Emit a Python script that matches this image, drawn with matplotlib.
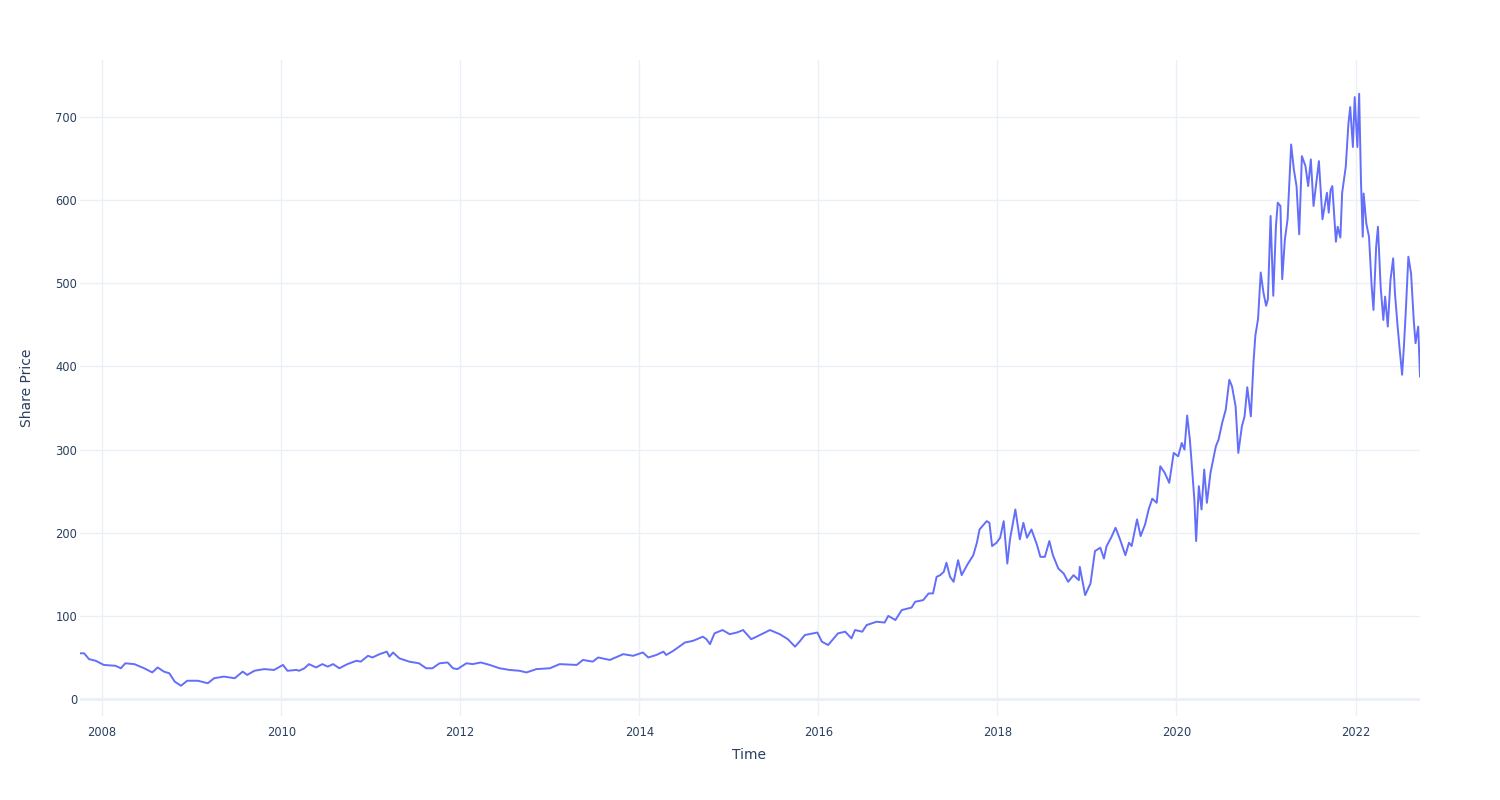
import matplotlib
matplotlib.use("Agg")
import matplotlib.pyplot as plt
from datetime import datetime, timedelta

# Decimal-year time stamps and share prices
time_decimal = [
    2007.754, 2007.80, 2007.855, 2007.93, 2008.02, 2008.15, 2008.21, 2008.26, 2008.36, 2008.47,
    2008.56, 2008.62, 2008.69, 2008.75, 2008.81, 2008.88, 2008.95, 2009.07, 2009.18, 2009.25,
    2009.36, 2009.48, 2009.57, 2009.62, 2009.70, 2009.81, 2009.92, 2010.02, 2010.07, 2010.17,
    2010.20, 2010.26, 2010.31, 2010.39, 2010.46, 2010.52, 2010.58, 2010.65, 2010.74, 2010.84,
    2010.89, 2010.97, 2011.02, 2011.10, 2011.18, 2011.21, 2011.25, 2011.32, 2011.43, 2011.54,
    2011.62, 2011.69, 2011.77, 2011.86, 2011.92, 2011.97, 2012.07, 2012.14, 2012.23, 2012.33,
    2012.44, 2012.55, 2012.66, 2012.74, 2012.85, 2013.00, 2013.11, 2013.30, 2013.37, 2013.48,
    2013.54, 2013.67, 2013.82, 2013.93, 2014.04, 2014.10, 2014.19, 2014.27, 2014.30, 2014.38,
    2014.51, 2014.60, 2014.71, 2014.75, 2014.79, 2014.84, 2014.93, 2015.01, 2015.09, 2015.16,
    2015.25, 2015.31, 2015.46, 2015.57, 2015.66, 2015.74, 2015.79, 2015.85, 2015.99, 2016.04,
    2016.11, 2016.22, 2016.30, 2016.37, 2016.41, 2016.49, 2016.54, 2016.65, 2016.74, 2016.78,
    2016.86, 2016.93, 2017.04, 2017.08, 2017.17, 2017.23, 2017.28, 2017.32, 2017.36, 2017.40,
    2017.43, 2017.47, 2017.51, 2017.56, 2017.60, 2017.66, 2017.73, 2017.77, 2017.80, 2017.88,
    2017.91, 2017.94, 2017.99, 2018.03, 2018.07, 2018.11, 2018.14, 2018.20, 2018.25, 2018.29,
    2018.33, 2018.38, 2018.44, 2018.48, 2018.53, 2018.58, 2018.62, 2018.68, 2018.74, 2018.79,
    2018.85, 2018.91, 2018.92, 2018.98, 2019.04, 2019.09, 2019.15, 2019.19, 2019.22, 2019.27,
    2019.32, 2019.37, 2019.43, 2019.47, 2019.50, 2019.56, 2019.60, 2019.65, 2019.69, 2019.73,
    2019.78, 2019.82, 2019.87, 2019.92, 2019.97, 2020.02, 2020.06, 2020.09, 2020.12, 2020.15,
    2020.17, 2020.20, 2020.22, 2020.25, 2020.28, 2020.31, 2020.34, 2020.38, 2020.44, 2020.47,
    2020.51, 2020.55, 2020.59, 2020.62, 2020.66, 2020.69, 2020.73, 2020.76, 2020.79, 2020.83,
    2020.86, 2020.88, 2020.91, 2020.94, 2020.97, 2021.00, 2021.02, 2021.05, 2021.08, 2021.11,
    2021.13, 2021.16, 2021.18, 2021.21, 2021.24, 2021.28, 2021.31, 2021.34, 2021.37, 2021.40,
    2021.44, 2021.47, 2021.50, 2021.53, 2021.59, 2021.63, 2021.68, 2021.70, 2021.72, 2021.74,
    2021.78, 2021.80, 2021.83, 2021.85, 2021.89, 2021.92, 2021.94, 2021.97, 2021.99, 2022.02,
    2022.04, 2022.06, 2022.08, 2022.09, 2022.12, 2022.15, 2022.18, 2022.20, 2022.23, 2022.25,
    2022.28, 2022.31, 2022.33, 2022.36, 2022.39, 2022.42, 2022.44, 2022.47, 2022.49, 2022.52,
    2022.54, 2022.56, 2022.59, 2022.62, 2022.65, 2022.67, 2022.70, 2022.72,
]

share_price = [
    55, 55, 48, 46, 41, 40, 37, 43, 42, 37,
    32, 38, 33, 31, 21, 16, 22, 22, 19, 25,
    27, 25, 33, 29, 34, 36, 35, 41, 34, 35,
    34, 37, 42, 38, 42, 39, 42, 37, 42, 46,
    45, 52, 50, 54, 57, 51, 56, 49, 45, 43,
    37, 37, 43, 44, 37, 36, 43, 42, 44, 41,
    37, 35, 34, 32, 36, 37, 42, 41, 47, 45,
    50, 47, 54, 52, 56, 50, 53, 57, 53, 58,
    68, 70, 75, 72, 66, 79, 83, 78, 80, 83,
    72, 75, 83, 78, 72, 63, 69, 77, 80, 69,
    65, 79, 81, 73, 83, 81, 89, 93, 92, 100,
    95, 107, 110, 117, 119, 127, 127, 147, 149, 153,
    164, 147, 141, 167, 149, 161, 173, 188, 204, 214,
    212, 184, 188, 194, 214, 163, 192, 228, 192, 212,
    194, 204, 186, 171, 171, 190, 173, 157, 151, 141,
    149, 143, 159, 125, 139, 178, 182, 169, 184, 194,
    206, 192, 173, 188, 184, 216, 196, 210, 228, 241,
    236, 280, 272, 260, 296, 292, 308, 300, 341, 312,
    284, 240, 190, 256, 228, 276, 236, 272, 304, 312,
    332, 348, 384, 376, 352, 296, 328, 340, 375, 340,
    406, 437, 457, 513, 489, 473, 481, 581, 485, 569,
    597, 593, 505, 553, 577, 667, 637, 617, 559, 653,
    641, 617, 649, 593, 647, 577, 609, 585, 612, 617,
    550, 568, 555, 609, 640, 692, 712, 664, 724, 664,
    728, 624, 556, 608, 572, 556, 496, 468, 544, 568,
    496, 456, 484, 448, 504, 530, 488, 448, 424, 390,
    424, 464, 532, 512, 456, 428, 448, 388,
]

y_ticks = [0, 100, 200, 300, 400, 500, 600, 700]
x_tick_years = [2008, 2010, 2012, 2014, 2016, 2018, 2020, 2022]


def to_datetime(dy):
    year = int(dy)
    start = datetime(year, 1, 1)
    days = (datetime(year + 1, 1, 1) - start).days
    return start + timedelta(days=(dy - year) * days)


dates = [to_datetime(v) for v in time_decimal]

W, H = 1500, 800
fig = plt.figure(figsize=(15, 8), dpi=100)
fig.patch.set_facecolor("white")
left, right, top, bottom = 80, 1420, 60, 716
ax = fig.add_axes([left / W, 1 - bottom / H, (right - left) / W, (bottom - top) / H])
ax.set_facecolor("white")

grid_color = "#EBF0F8"
text_color = "#2a3f5f"

ax.plot(dates, share_price, color="#636efa", linewidth=1.4, zorder=3)

ax.set_xlim(dates[0], dates[-1])
ax.set_ylim(-20.4, 768.6)

ax.set_yticks(y_ticks)
ax.set_yticklabels([str(v) for v in y_ticks])
ax.set_xticks([datetime(y, 1, 1) for y in x_tick_years])
ax.set_xticklabels([str(y) for y in x_tick_years])

ax.grid(True, color=grid_color, linewidth=1.0, zorder=0)
ax.axhline(0, color=grid_color, linewidth=2.0, zorder=1)
for s in ax.spines.values():
    s.set_visible(False)
ax.tick_params(axis="both", length=0, labelsize=8.3, labelcolor=text_color)
ax.tick_params(axis="y", pad=2)
ax.tick_params(axis="x", pad=7)

fig.text(27 / W, 1 - 388 / H, "Share Price", rotation=90, ha="center", va="center",
         fontsize=10, color=text_color)
fig.text(749 / W, 1 - 755 / H, "Time", ha="center", va="center",
         fontsize=10, color=text_color)

fig.savefig("out.png", dpi=100, facecolor="white")
